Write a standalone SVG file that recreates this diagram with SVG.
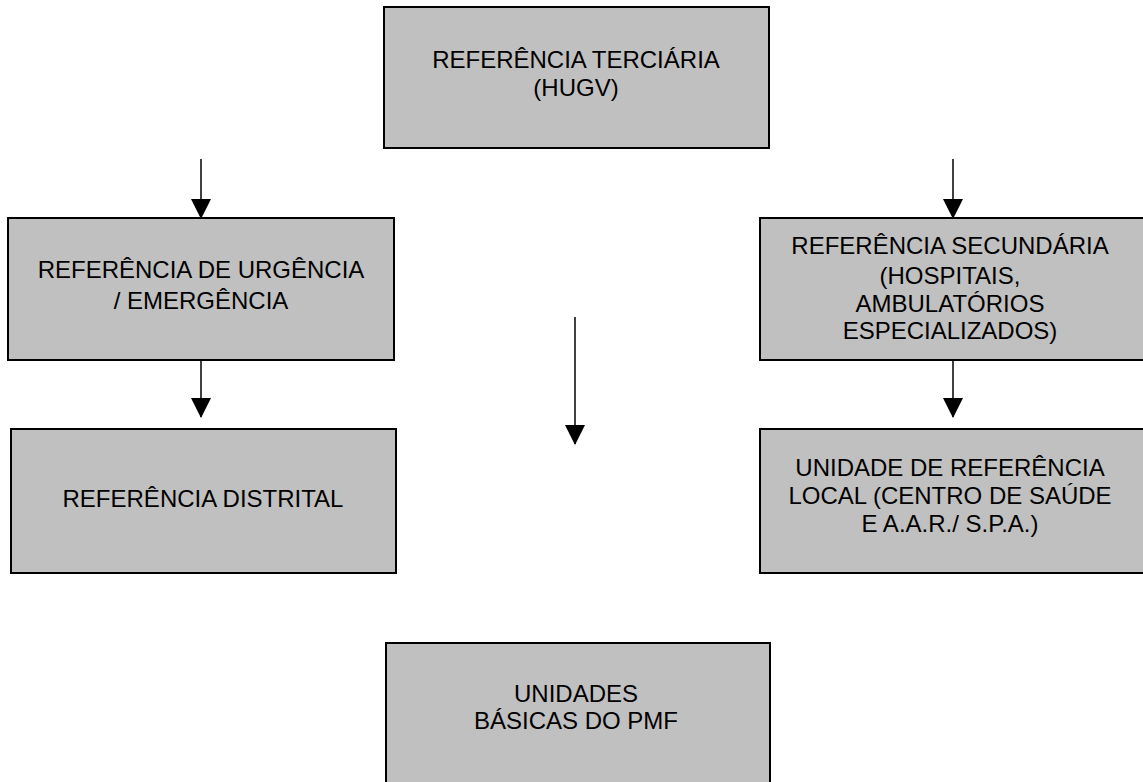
<svg xmlns="http://www.w3.org/2000/svg" width="1143" height="782" viewBox="0 0 1143 782">
<style>
.box{fill:#c0c0c0;stroke:#000;stroke-width:2}
.t{font-family:"Liberation Sans",Arial,sans-serif;font-size:24px;fill:#000;text-anchor:middle}
.c{stroke:#000;stroke-width:1.5;fill:none}
</style>
<defs>
<marker id="ah" markerUnits="userSpaceOnUse" markerWidth="20" markerHeight="21" refX="19" refY="10" orient="auto">
<path d="M0,0 L20,10 L0,20 Z" fill="#000"/>
</marker>
</defs>
<rect width="1143" height="782" fill="#fff"/>
<g id="terciaria">
<rect class="box" x="384" y="7" width="385" height="141"/>
<text class="t" x="576" y="68">REFERÊNCIA TERCIÁRIA</text>
<text class="t" x="576" y="96">(HUGV)</text>
</g>
<g id="urgencia">
<rect class="box" x="8" y="218" width="386" height="142"/>
<text class="t" x="201" y="278">REFERÊNCIA DE URGÊNCIA</text>
<text class="t" x="201" y="309">/ EMERGÊNCIA</text>
</g>
<g id="secundaria">
<rect class="box" x="760" y="218" width="400" height="142"/>
<text class="t" x="950" y="254">REFERÊNCIA SECUNDÁRIA</text>
<text class="t" x="950" y="284">(HOSPITAIS,</text>
<text class="t" x="950" y="312">AMBULATÓRIOS</text>
<text class="t" x="950" y="339">ESPECIALIZADOS)</text>
</g>
<g id="distrital">
<rect class="box" x="11" y="429" width="385" height="144"/>
<text class="t" x="203" y="507">REFERÊNCIA DISTRITAL</text>
</g>
<g id="local">
<rect class="box" x="760" y="429" width="400" height="144"/>
<text class="t" x="950" y="476">UNIDADE DE REFERÊNCIA</text>
<text class="t" x="950" y="504">LOCAL (CENTRO DE SAÚDE</text>
<text class="t" x="950" y="532">E A.A.R./ S.P.A.)</text>
</g>
<g id="basicas">
<rect class="box" x="386" y="643" width="384" height="150"/>
<text class="t" x="576" y="702">UNIDADES</text>
<text class="t" x="576" y="729">BÁSICAS DO PMF</text>
</g>
<g id="connectors">
<line class="c" x1="201" y1="159" x2="201" y2="218" marker-end="url(#ah)"/>
<line class="c" x1="953" y1="159" x2="953" y2="218" marker-end="url(#ah)"/>
<line class="c" x1="201" y1="360" x2="201" y2="417" marker-end="url(#ah)"/>
<line class="c" x1="953" y1="360" x2="953" y2="417" marker-end="url(#ah)"/>
<line class="c" x1="575" y1="317" x2="575" y2="444" marker-end="url(#ah)"/>
</g>
</svg>
